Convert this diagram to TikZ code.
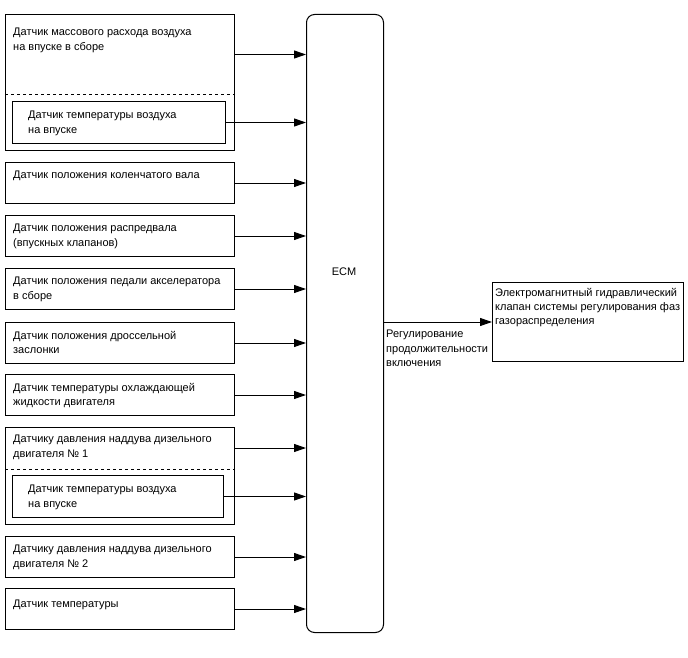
\documentclass[tikz,border=0pt]{standalone}
\usepackage{fontspec}
\setmainfont{Liberation Sans}
\usetikzlibrary{arrows.meta, positioning}

\tikzset{
  sensor/.style={draw, line width=1pt, minimum width=229pt, minimum height=41pt,
    anchor=north west, inner sep=0pt},
  txt/.style={anchor=north west, align=left, inner sep=0pt, xshift=8pt, yshift=-9pt,
    font=\fontsize{11}{14.3}\selectfont},
  sig/.style={->, line width=1pt},
}

\begin{document}
\begin{tikzpicture}[x=1pt, y=-1pt, >={Triangle[length=12pt,width=8pt]}]
    \useasboundingbox (0,0) rectangle (688,658);
    % ECM
    \node[draw, line width=1pt, rounded corners=8pt, minimum width=77pt,
        minimum height=618pt, anchor=north west] (ecm) at (306,14) {};
    \node[font=\fontsize{11}{14.3}\selectfont] (ecmlbl) at (344,272) {ECM};

    % 1. Датчик массового расхода воздуха
    \node[sensor, minimum height=136pt] (grpmaf) at (5,14) {};
    \node[sensor, draw=none, minimum height=80pt,
        label={[txt, yshift=-5pt]north west:{Датчик массового расхода воздуха\\на впуске в сборе}}]
        (maf) at (grpmaf.north west) {};
    \draw[dashed, line width=1pt] (maf.south west) -- (maf.south east);
    \node[sensor, minimum width=213pt, minimum height=42pt,
        label={[txt, xshift=8pt, yshift=-1pt]north west:{Датчик температуры воздуха\\на впуске}}]
        (iatA) at (12,101) {};

    % 2. Остальные датчики
    \node[sensor, label={[txt]north west:{Датчик положения коленчатого вала}}] (ckp) at (5,162) {};
    \node[sensor, label={[txt]north west:{Датчик положения распредвала\\(впускных клапанов)}}] (cmp) at (5,215) {};
    \node[sensor, label={[txt]north west:{Датчик положения педали акселератора\\в сборе}}] (app) at (5,268) {};
    \node[sensor, label={[txt]north west:{Датчик положения дроссельной\\заслонки}}] (tps) at (5,322) {};
    \node[sensor, label={[txt]north west:{Датчик температуры охлаждающей\\жидкости двигателя}}] (ect) at (5,374) {};

    % 3. Датчик давления наддува № 1
    \node[sensor, minimum height=97pt] (grpmap) at (5,427) {};
    \node[sensor, draw=none,
        label={[txt, yshift=1pt]north west:{Датчику давления наддува дизельного\\двигателя №~1}}]
        (mapA) at (grpmap.north west) {};
    \draw[dashed, line width=1pt] (mapA.south west) -- (mapA.south east);
    \node[sensor, minimum width=211pt, minimum height=42pt,
        label={[txt, xshift=8pt, yshift=-1pt]north west:{Датчик температуры воздуха\\на впуске}}]
        (iatB) at (12,475) {};

    \node[sensor, label={[txt]north west:{Датчику давления наддува дизельного\\двигателя №~2}}] (mapB) at (5,536) {};
    \node[sensor, label={[txt, yshift=-3pt]north west:{Датчик температуры}}] (temp) at (5,588) {};

    % 4. Входные сигналы
    \foreach \s in {maf, iatA, ckp, cmp, app, tps, ect, mapA, iatB, mapB, temp}
        \draw[sig] (\s.east) -- (\s.east -| ecm.west);

    % 5. Выход
    \node[draw, line width=1pt, minimum width=191pt, minimum height=79pt, anchor=north west,
        label={[txt, xshift=-5pt, yshift=3pt]north west:{Электромагнитный гидравлический\\клапан системы регулирования фаз\\газораспределения}}]
        (vvt) at (492,282) {};
    \draw[sig] (ecm.east |- vvt.west) -- (vvt.west);
    \node[txt, xshift=-8pt, yshift=9pt] (duty) at (386,330)
        {Регулирование\\продолжительности\\включения};
\end{tikzpicture}
\end{document}
